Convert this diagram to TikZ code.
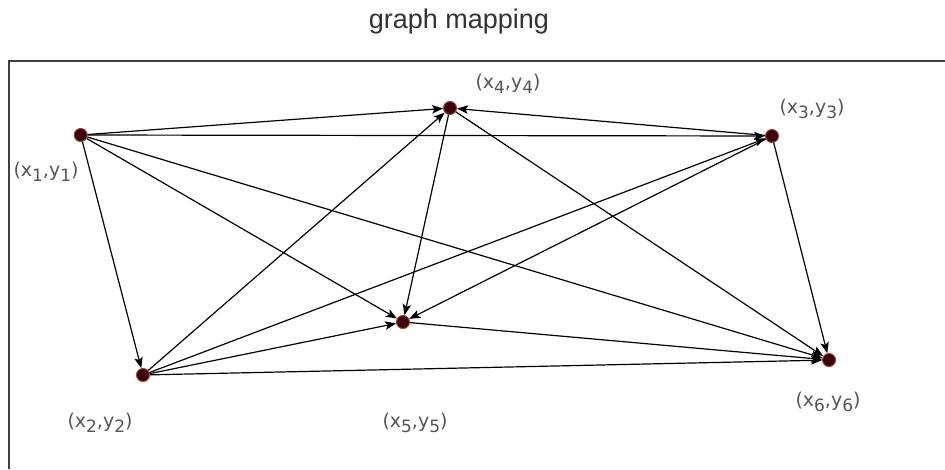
\documentclass[tikz,border=0pt]{standalone}
\usepackage{fontspec}
\setmainfont{Liberation Sans}
\newfontfamily\lblfont{DejaVu Sans}
\usetikzlibrary{arrows.meta}
\definecolor{nodefill}{HTML}{3A0012}
\definecolor{nodeline}{HTML}{9A4527}
\definecolor{lblgray}{HTML}{555555}
\definecolor{framegray}{HTML}{404040}
\definecolor{ttlgray}{HTML}{333333}
\newcommand\mysub[1]{\raisebox{-5pt}{\fontsize{17}{17}\selectfont #1}}
\newcommand\xy[1]{(x\mysub{#1},y\mysub{#1})}
\tikzset{
  vert/.style={circle, minimum size=13pt, inner sep=0pt, fill=nodefill, draw=nodeline, line width=1pt},
  edge/.style={line width=1.2pt, -{Stealth[length=11pt,width=8.5pt,inset=2.5pt]}},
  lbl/.style={font=\lblfont\fontsize{19}{22}\selectfont, text=lblgray, inner sep=0pt},
  ttl/.style={font=\fontsize{27}{30}\selectfont, text=ttlgray, inner sep=0pt}
}
\begin{document}
\begin{tikzpicture}[x=1pt,y=-1pt]
\useasboundingbox (0,0) rectangle (945,469);
\fill[white] (0,0) rectangle (945,469);
\node[ttl] (title) at (459,22) {graph mapping};
\coordinate (ftr) at (945,61);
\coordinate (ftl) at (9,61);
\coordinate (fbl) at (9,469);
\draw[line width=2pt, framegray] (ftr) -- (ftl) -- (fbl);

\node[vert] (n1) at (80.7,135) {};
\node[vert] (n4) at (450,108) {};
\node[vert] (n3) at (772,136) {};
\node[vert] (n2) at (143,375) {};
\node[vert] (n5) at (403,322) {};
\node[vert] (n6) at (829,360) {};

\node[lbl] (l1) at (46,172) {\xy{1}};
\node[lbl] (l4) at (508,84) {\xy{4}};
\node[lbl] (l3) at (812,109) {\xy{3}};
\node[lbl] (l2) at (100,423) {\xy{2}};
\node[lbl] (l5) at (415,423) {\xy{5}};
\node[lbl] (l6) at (828,402) {\xy{6}};

\draw[edge] (n1) -- (n4);
\draw[edge] (n3) -- (n4);
\draw[edge] (n1) -- (n3);
\draw[edge] (n1) -- (n2);
\draw[edge] (n1) -- (n5);
\draw[edge] (n1) -- (n6);
\draw[edge] (n2) -- (n4);
\draw[edge] (n2) -- (n3);
\draw[edge] (n2) -- (n5);
\draw[edge] (n2) -- (n6);
\draw[edge] (n4) -- (n5);
\draw[edge] (n4) -- (n6);
\draw[edge] (n5) -- (n6);
\draw[edge] (n3) -- (n6);
\draw[edge] (n3) -- (n5);
\end{tikzpicture}
\end{document}
